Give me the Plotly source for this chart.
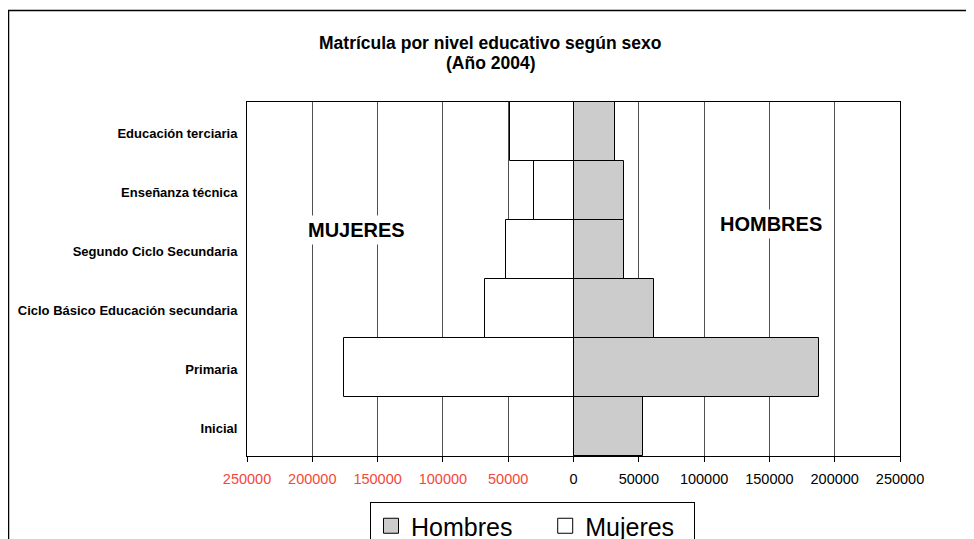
import plotly.graph_objects as go

categories = ["Inicial", "Primaria", "Ciclo Básico Educación secundaria",
              "Segundo Ciclo Secundaria", "Enseñanza técnica", "Educación terciaria"]
hombres = [53000, 187600, 61500, 39000, 39000, 31400]
mujeres = [None, 176100, 67900, 51500, 29900, 49000]
tick_values = [-250000, -200000, -150000, -100000, -50000, 0, 50000, 100000, 150000, 200000, 250000]
tick_labels = ["250000", "200000", "150000", "100000", "50000", "0",
               "50000", "100000", "150000", "200000", "250000"]

FONT = "Arial, Liberation Sans, sans-serif"
RED = "#F4473A"
GRAY = "#CCCCCC"
NB = "\u00a0"

mujeres_neg = [(-v if v is not None else None) for v in mujeres]
ticktext = [f"<span style='color:{RED}'>{t}</span>" if v < 0 else t
            for v, t in zip(tick_values, tick_labels)]

fig = go.Figure()
fig.add_trace(go.Bar(y=categories, x=hombres, orientation="h", name="Hombres",
                     marker=dict(color=GRAY, line=dict(color="black", width=1)),
                     showlegend=False))
fig.add_trace(go.Bar(y=categories, x=mujeres_neg, orientation="h", name="Mujeres",
                     marker=dict(color="white", line=dict(color="black", width=1)),
                     showlegend=False))
# legend entries
fig.add_trace(go.Scatter(x=[None], y=[None], mode="markers", name="Hombres" + NB * 4,
                         marker=dict(symbol="square", size=15, color=GRAY,
                                     line=dict(color="black", width=1))))
fig.add_trace(go.Scatter(x=[None], y=[None], mode="markers", name="Mujeres" + NB * 2,
                         marker=dict(symbol="square", size=15, color="white",
                                     line=dict(color="black", width=1))))

# page body has an 8px margin; work in screen coordinates
OX, OY = 8, 8
W, H = 974 - OX, 539 - OY
PL, PR, PT, PB = 247, 900, 102, 456  # plot area in screen px
L, R, T, B = PL - OX, (974 - PR), PT - OY, (539 - PB)
pw, ph = PR - PL, PB - PT

def px(x):
    return (x - PL) / pw

def py(y):
    return (PB - y) / ph

fig.update_layout(
    width=W, height=H,
    margin=dict(l=L, r=R, t=T, b=B, autoexpand=False),
    paper_bgcolor="white", plot_bgcolor="white",
    font=dict(family=FONT, color="black"),
    barmode="overlay", bargap=0,
    xaxis=dict(range=[-250000, 250000], tickmode="array", tickvals=tick_values,
               ticktext=ticktext, tickfont=dict(size=14.5, color="black"),
               ticks="outside", ticklen=5, tickcolor="black", ticklabelstandoff=5,
               showgrid=True, gridcolor="#505050", gridwidth=1.2,
               zeroline=False, showline=True, linecolor="black", linewidth=1,
               mirror=True, fixedrange=True),
    yaxis=dict(type="category", categoryorder="array", categoryarray=categories,
               tickfont=dict(size=13, weight="bold"), ticks="outside", ticklen=6,
               tickcolor="rgba(0,0,0,0)", showgrid=False, ticklabelshift=2,
               showline=True, linecolor="black", linewidth=1, mirror=True,
               fixedrange=True),
    legend=dict(orientation="h", x=px(370), y=py(502), xanchor="left", yanchor="top",
                bordercolor="black", borderwidth=1, font=dict(size=25, family=FONT),
                bgcolor="white", itemsizing="trace"),
    showlegend=True,
)

fig.add_annotation(xref="paper", yref="paper", x=px(490), y=py(43), xanchor="center", yanchor="middle",
                   text="<b>Matrícula por nivel educativo según sexo</b>", showarrow=False,
                   font=dict(size=17.5, family=FONT))
fig.add_annotation(xref="paper", yref="paper", x=px(490), y=py(63), xanchor="center", yanchor="middle",
                   text="<b>(Año 2004)</b>", showarrow=False,
                   font=dict(size=17.5, family=FONT))
fig.add_annotation(xref="x", yref="paper", x=-165800, y=py(230), xanchor="center", yanchor="middle",
                   text="<b>MUJERES</b>", showarrow=False, bgcolor="white", borderpad=3,
                   font=dict(size=20, family=FONT))
fig.add_annotation(xref="x", yref="paper", x=151600, y=py(224), xanchor="center", yanchor="middle",
                   text="<b>HOMBRES</b>", showarrow=False, bgcolor="white", borderpad=3,
                   font=dict(size=20, family=FONT))

fig.add_shape(type="rect", xref="paper", yref="paper",
              x0=px(8.5), x1=px(969.5), y0=py(560), y1=py(10.5),
              line=dict(color="black", width=1.5), fillcolor="rgba(0,0,0,0)", layer="above")

fig.write_html("out.html")
